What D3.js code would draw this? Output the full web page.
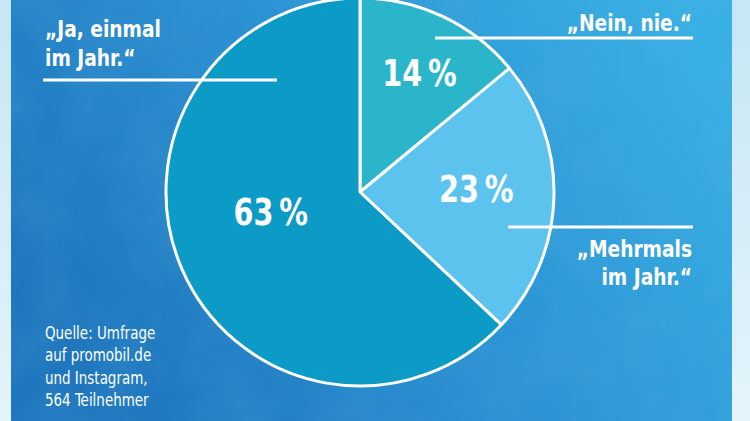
<!DOCTYPE html>
<html><head><meta charset="utf-8">
<script src="https://cdn.jsdelivr.net/npm/d3@7"></script>
<style>html,body{margin:0;padding:0;overflow:hidden;background:#d3edf9}</style>
</head><body>
<script>
const categories = ["„Nein, nie.“", "„Mehrmals im Jahr.“", "„Ja, einmal im Jahr.“"];
const values = [14, 23, 63];
const valueLabels = ["14 %", "23 %", "63 %"];
const sliceColors = ["#2bb5cb", "#5cc3ee", "#0c9ac7"];
const sourceLines = ["Quelle: Umfrage", "auf promobil.de", "und Instagram,", "564 Teilnehmer"];

const W = 750, H = 421;
const svg = d3.select("body").append("svg").attr("width", W).attr("height", H);
const defs = svg.append("defs");

const bg = defs.append("linearGradient").attr("id","bg").attr("x1","0").attr("y1","0.6").attr("x2","1").attr("y2","0.2");
bg.append("stop").attr("offset","0").attr("stop-color","#1f76bd");
bg.append("stop").attr("offset","0.45").attr("stop-color","#2a90d2");
bg.append("stop").attr("offset","1").attr("stop-color","#39b0e4");
const side = defs.append("linearGradient").attr("id","side").attr("x1","0").attr("y1","0").attr("x2","0").attr("y2","1");
side.append("stop").attr("offset","0").attr("stop-color","#c6e6f5");
side.append("stop").attr("offset","1").attr("stop-color","#e4f4fb");
const f = defs.append("filter").attr("id","tex").attr("x","0").attr("y","0").attr("width","1").attr("height","1");
f.append("feTurbulence").attr("type","fractalNoise").attr("baseFrequency","0.015").attr("numOctaves","4").attr("seed","7");
f.append("feColorMatrix").attr("type","matrix").attr("values","0 0 0 0 0.1  0 0 0 0 0.4  0 0 0 0 0.7  0 0 0 0.35 -0.12");
f.append("feComposite").attr("in2","SourceGraphic").attr("operator","in");

svg.append("rect").attr("width",W).attr("height",H).attr("fill","url(#side)");
svg.append("rect").attr("x",11).attr("y",0).attr("width",721).attr("height",H).attr("fill","url(#bg)");
svg.append("rect").attr("x",11).attr("y",0).attr("width",721).attr("height",H).attr("fill","#000").attr("filter","url(#tex)");

const cx = 360, cy = 192, R = 194;
const pie = d3.pie().sort(null).value(d => d)(values);
const arc = d3.arc().innerRadius(0).outerRadius(R);
const g = svg.append("g").attr("transform",`translate(${cx},${cy})`);
g.selectAll("path.slice").data(pie).join("path").attr("class","slice")
  .attr("d", arc).attr("fill",(d,i)=>sliceColors[i])
  .attr("stroke","#fff").attr("stroke-width",3).attr("stroke-linejoin","round");

const labelR = [0.69, 0.6, 0.47];
const labelShift = [0.02, -0.066, 0.2];
const font = "'DejaVu Sans Condensed','DejaVu Sans',sans-serif";
g.selectAll("text.val").data(pie).join("text").attr("class","val")
  .attr("transform",(d,i)=>{
    const a = (d.startAngle+d.endAngle)/2 + labelShift[i];
    const r = R*labelR[i];
    return `translate(${r*Math.sin(a)},${-r*Math.cos(a)}) scale(0.84,1)`;
  })
  .attr("text-anchor","middle").attr("dy","0.36em")
  .attr("fill","#fff").attr("font-family",font).attr("font-weight","bold")
  .attr("font-size",38).attr("word-spacing",-5).text((d,i)=>valueLabels[i]);

function label(lines, x, y0, anchor, lh, size, weight, sx){
  const t = svg.append("g").attr("transform",`translate(${x},${y0}) scale(${sx},1)`)
    .append("text").attr("text-anchor",anchor).attr("fill","#fff")
    .attr("font-family",font).attr("font-weight",weight).attr("font-size",size);
  lines.forEach((l,k)=>t.append("tspan").attr("x",0).attr("y",k*lh).text(l));
}
// white rules under/over the category labels
const rules = [[435,38,693,38],[508,227,693,227],[43,80,277,80]];
svg.selectAll("line.rule").data(rules).join("line").attr("class","rule")
  .attr("x1",d=>d[0]).attr("y1",d=>d[1]).attr("x2",d=>d[2]).attr("y2",d=>d[3])
  .attr("stroke","#fff").attr("stroke-width",3);

label(["„Nein, nie.“"], 692, 31, "end", 28, 23, "bold", 0.9);
label(["„Mehrmals", "im Jahr.“"], 692, 257, "end", 28, 23, "bold", 0.9);
label(["„Ja, einmal", "im Jahr.“"], 45, 37, "start", 29, 23, "bold", 0.9);
label(sourceLines, 45, 339, "start", 22.5, 17, "normal", 0.88);
</script>
</body></html>
